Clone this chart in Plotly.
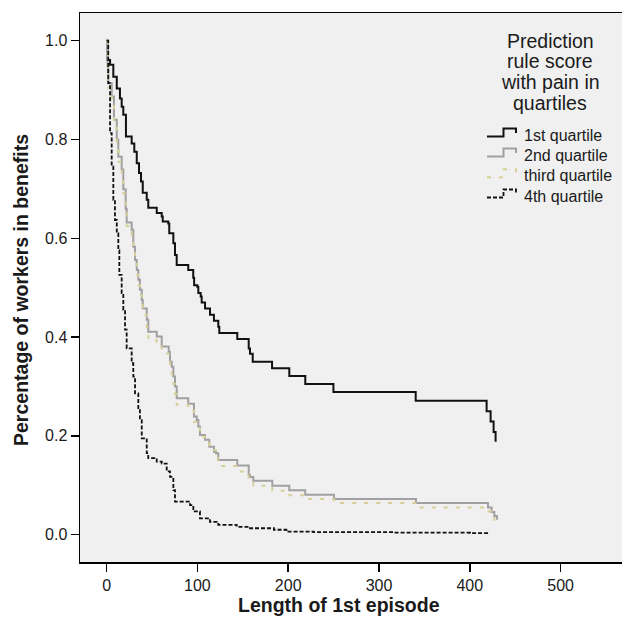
import plotly.graph_objects as go

# ---- data ----
q1_time = [0, 1.1, 3.8, 7.4, 11.2, 14.7, 16.6, 18.4, 21.3, 27.6, 30.5, 33.2, 35.7, 37.9, 39.8,
           44.2, 45.9, 55.2, 60.7, 61.8, 67.9, 69.0, 73.5, 75.3, 77.2, 89.9, 95.4, 96.4, 99.9,
           101.0, 103.6, 104.7, 108.4, 113.9, 118.2, 123.0, 124.1, 143.9, 156.5, 157.9, 160.9,
           182.2, 201.2, 218.8, 249.8, 340.4, 418.5, 422.9, 426.2, 428.4]
q1_surv = [1.0, 0.961, 0.951, 0.927, 0.903, 0.883, 0.866, 0.850, 0.806, 0.792, 0.775, 0.752,
           0.732, 0.715, 0.692, 0.678, 0.662, 0.651, 0.644, 0.634, 0.630, 0.610, 0.590, 0.566,
           0.546, 0.536, 0.520, 0.505, 0.502, 0.489, 0.482, 0.470, 0.458, 0.445, 0.433, 0.421,
           0.408, 0.396, 0.377, 0.366, 0.350, 0.337, 0.321, 0.305, 0.289, 0.271, 0.250, 0.229,
           0.208, 0.188]

q2_time = [0, 1.1, 1.8, 5.6, 8.1, 11.2, 12.9, 16.6, 18.4, 21.0, 22.1, 27.6, 29.4, 31.3, 33.2,
           34.9, 36.7, 38.7, 39.8, 44.2, 45.9, 55.2, 60.7, 68.4, 69.8, 71.7, 73.5, 75.3, 77.2,
           89.9, 96.2, 99.3, 101.0, 102.8, 108.4, 113.1, 118.2, 120.5, 123.0, 143.9, 156.5,
           157.9, 161.6, 182.5, 201.2, 218.8, 250.4, 340.7, 420.0, 424.0, 427.0, 430.0]
q2_surv = [1.0, 0.947, 0.914, 0.887, 0.840, 0.800, 0.765, 0.739, 0.699, 0.659, 0.632, 0.617,
           0.583, 0.556, 0.536, 0.516, 0.496, 0.475, 0.458, 0.435, 0.411, 0.401, 0.381, 0.370,
           0.350, 0.340, 0.320, 0.300, 0.276, 0.265, 0.239, 0.232, 0.219, 0.202, 0.192, 0.178,
           0.168, 0.165, 0.151, 0.140, 0.121, 0.117, 0.109, 0.099, 0.090, 0.081, 0.072, 0.064,
           0.055, 0.046, 0.038, 0.030]

q3_time = [0, 1.1, 1.8, 5.6, 8.1, 11.2, 12.9, 16.6, 18.4, 21.0, 22.1, 27.6, 29.4, 31.3, 33.2,
           34.9, 36.7, 38.7, 39.8, 44.2, 45.9, 55.2, 60.7, 68.4, 69.8, 71.7, 73.5, 75.3, 77.2,
           89.9, 96.2, 99.3, 102.8, 108.4, 113.1, 120.5, 123.0, 143.9, 156.5, 161.6, 182.5,
           201.2, 218.8, 250.4, 340.7, 420.0, 424.0, 427.0, 430.0]
q3_surv = [1.0, 0.940, 0.905, 0.875, 0.830, 0.790, 0.755, 0.725, 0.690, 0.650, 0.625, 0.605,
           0.575, 0.548, 0.526, 0.505, 0.485, 0.465, 0.445, 0.420, 0.394, 0.384, 0.367, 0.354,
           0.340, 0.325, 0.305, 0.285, 0.263, 0.251, 0.228, 0.219, 0.198, 0.185, 0.171, 0.155,
           0.139, 0.128, 0.107, 0.099, 0.089, 0.080, 0.072, 0.064, 0.055, 0.047, 0.038, 0.030,
           0.024]

q4_time = [0, 1.8, 3.8, 5.6, 7.4, 9.2, 11.2, 12.9, 14.0, 16.6, 18.4, 20.3, 22.1, 27.6, 29.4,
           31.3, 34.9, 36.7, 38.7, 44.2, 45.9, 55.2, 60.7, 66.2, 69.8, 73.5, 75.3, 91.9, 95.5,
           102.8, 113.8, 123.0, 143.3, 157.9, 184.2, 198.0, 227.7, 315.7, 400.2, 420.4]
q4_surv = [1.0, 0.914, 0.813, 0.745, 0.678, 0.637, 0.610, 0.576, 0.526, 0.489, 0.455, 0.415,
           0.377, 0.347, 0.320, 0.286, 0.252, 0.232, 0.195, 0.165, 0.155, 0.148, 0.144, 0.128,
           0.117, 0.090, 0.067, 0.060, 0.047, 0.033, 0.026, 0.020, 0.016, 0.013, 0.010, 0.006,
           0.005, 0.004, 0.003, 0.002]

series_names = ["1st quartile", "2nd quartile", "third quartile", "4th quartile"]
x_ticks = [0, 100, 200, 300, 400, 500]
y_ticks = [0.0, 0.2, 0.4, 0.6, 0.8, 1.0]
legend_title_lines = ["Prediction", "rule score", "with pain in", "quartiles"]

FONT = "Liberation Sans, Arial, Helvetica, sans-serif"
TXT = "#1a1a1a"

styles = [
    dict(color="#111111", width=2.0, dash="solid"),
    dict(color="#a0a0a0", width=2.0, dash="solid"),
    dict(color="#d6d098", width=2.0, dash="4px,8px"),
    dict(color="#111111", width=1.8, dash="4px,2px"),
]

fig = go.Figure()
for name, xs, ys, st in zip(series_names,
                            [q1_time, q2_time, q3_time, q4_time],
                            [q1_surv, q2_surv, q3_surv, q4_surv],
                            styles):
    fig.add_trace(go.Scatter(x=xs, y=ys, mode="lines", name=name, showlegend=False,
                             line=dict(shape="hv", **st)))

W, H = 622, 623
L, R, T, B = 80, 0, 13, 61
pw, ph = W - L - R, H - T - B

def px(xp):
    return (xp - L) / pw

def py(yp):
    return (H - B - yp) / ph

annotations = []
shapes = []
for line, yy in zip(legend_title_lines, [41.0, 61.5, 82.0, 102.5]):
    annotations.append(dict(text=line, x=px(550), y=py(yy), xref="paper", yref="paper",
                            xanchor="center", yanchor="middle", showarrow=False,
                            font=dict(family=FONT, size=19.5, color=TXT)))

# hand-drawn legend with step-shaped keys
entry_y = [135.0, 155.0, 175.7, 196.0]
for name, yc, st in zip(series_names, entry_y, styles):
    path = "M {:.5f},{:.5f} L {:.5f},{:.5f} L {:.5f},{:.5f} L {:.5f},{:.5f} L {:.5f},{:.5f}".format(
        px(487), py(yc + 1.5), px(503.5), py(yc + 1.5), px(503.5), py(yc - 6.5),
        px(516), py(yc - 6.5), px(516), py(yc - 2))
    shapes.append(dict(type="path", path=path, xref="paper", yref="paper",
                       line=dict(color=st["color"], width=st["width"], dash=st["dash"])))
    annotations.append(dict(text=name, x=px(521.5), y=py(yc), xref="paper", yref="paper",
                            xanchor="left", yanchor="middle", showarrow=False,
                            font=dict(family=FONT, size=16, color=TXT)))

annotations.append(dict(text="<b>Length of 1st episode</b>", x=px(339), y=py(605),
                        xref="paper", yref="paper", xanchor="center", yanchor="middle",
                        showarrow=False, font=dict(family=FONT, size=19.5, color=TXT)))
annotations.append(dict(text="<b>Percentage of workers in benefits</b>", x=px(21), y=py(290),
                        xref="paper", yref="paper", xanchor="center", yanchor="middle",
                        textangle=-90, showarrow=False,
                        font=dict(family=FONT, size=19.5, color=TXT)))

fig.update_layout(
    width=W, height=H,
    margin=dict(l=L, r=R, t=T, b=B, pad=0),
    paper_bgcolor="white",
    plot_bgcolor="#f0f0f0",
    font=dict(family=FONT, size=16, color=TXT),
    showlegend=False,
    hovermode=False,
    annotations=annotations,
    shapes=shapes,
    xaxis=dict(range=[-29.3, 567.6], tickvals=x_ticks, ticks="outside", ticklen=8,
               tickwidth=1.5, tickcolor="black", showline=True, linewidth=1.5,
               linecolor="black", mirror=True, showgrid=False, zeroline=False,
               tickfont=dict(family=FONT, size=16, color=TXT)),
    yaxis=dict(range=[-0.0553, 1.056], tickvals=y_ticks, tickformat=".1f", ticks="outside",
               ticklen=8, tickwidth=1.5, tickcolor="black", showline=True, linewidth=1.5,
               linecolor="black", showgrid=False, zeroline=False,
               tickfont=dict(family=FONT, size=16, color=TXT)),
)

# remove the browser's default 8px body margin so the figure sits at the window origin
fig.write_html("out.html", config={"displayModeBar": False, "staticPlot": True},
               post_script="document.body.style.margin='0px';")
